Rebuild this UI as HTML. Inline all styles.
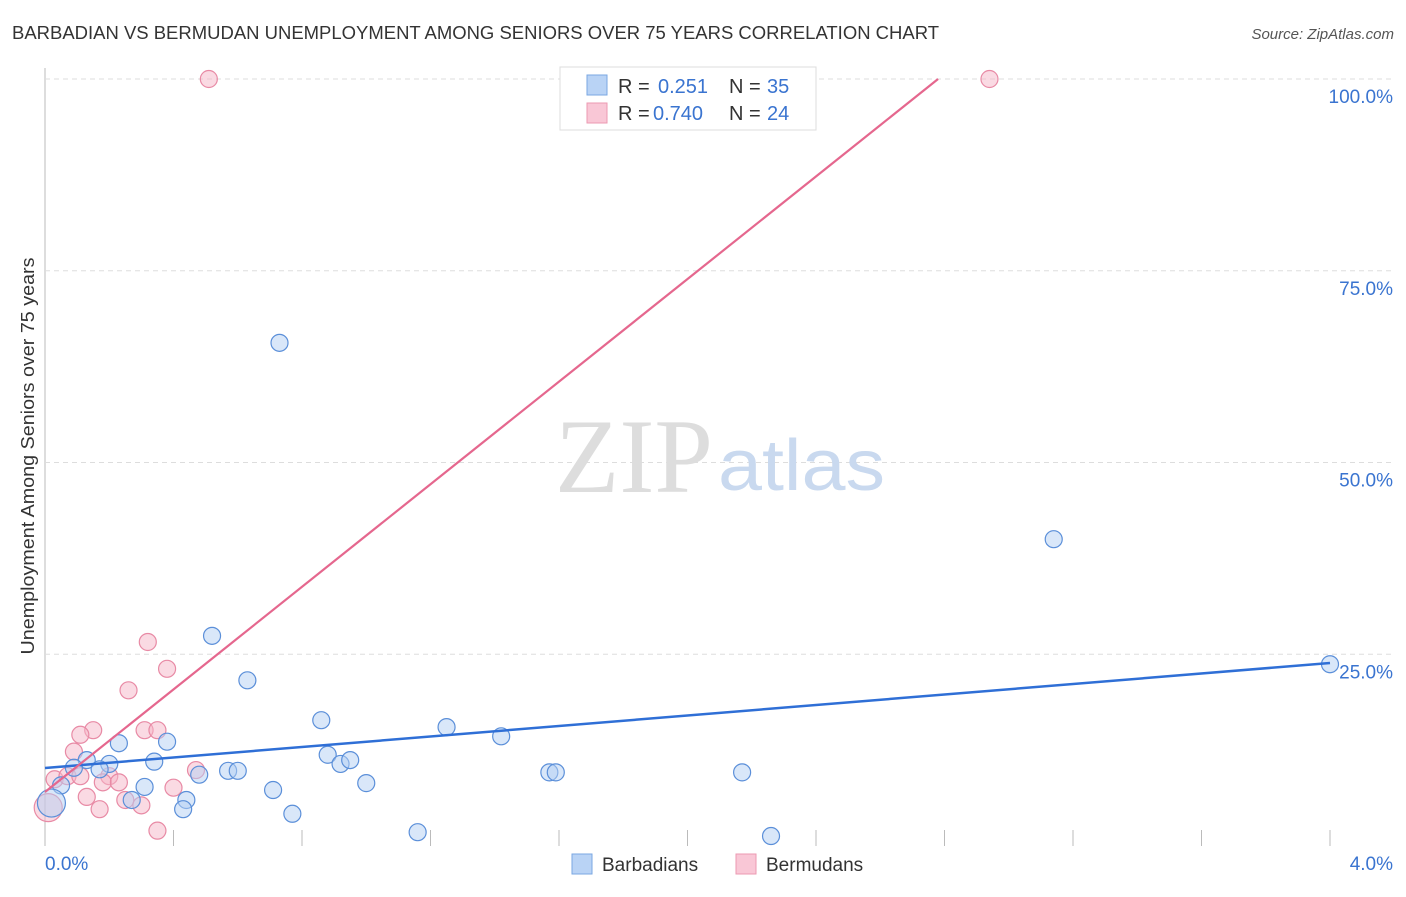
<!DOCTYPE html>
<html><head><meta charset="utf-8"><style>
body{margin:0;background:#fff;font-family:"Liberation Sans",sans-serif;}
</style></head><body>
<svg id="chart" width="1406" height="892" xmlns="http://www.w3.org/2000/svg" font-family="Liberation Sans, sans-serif">
<text x="12" y="39" font-size="18" fill="#333" textLength="927" lengthAdjust="spacingAndGlyphs">BARBADIAN VS BERMUDAN UNEMPLOYMENT AMONG SENIORS OVER 75 YEARS CORRELATION CHART</text>
<text x="1394" y="39" font-size="15" fill="#555" font-style="italic" text-anchor="end">Source: ZipAtlas.com</text>
<text x="34" y="456" font-size="18" fill="#333" text-anchor="middle" textLength="397" lengthAdjust="spacingAndGlyphs" transform="rotate(-90 34 456)">Unemployment Among Seniors over 75 years</text>
<g id="grid"></g>
<text x="713" y="492" font-size="106" fill="#ddd" font-family="Liberation Serif, serif" text-anchor="end" textLength="158" lengthAdjust="spacingAndGlyphs">ZIP</text>
<text x="718" y="490" font-size="72" fill="#c9d9ef" textLength="167" lengthAdjust="spacingAndGlyphs">atlas</text>
<g id="marks"></g>
<g>
<rect x="560" y="67" width="256" height="63" fill="#fff" stroke="#ddd"/>
<rect x="587" y="75" width="20" height="20" fill="#b9d3f5" stroke="#7aa7e2"/>
<rect x="587" y="103" width="20" height="20" fill="#f9c7d6" stroke="#ec9ab2"/>
<text x="618" y="93" font-size="20" fill="#333">R = </text><text x="658" y="93" font-size="20" fill="#3a74d0">0.251</text>
<text x="729" y="93" font-size="20" fill="#333">N = </text><text x="767" y="93" font-size="20" fill="#3a74d0">35</text>
<text x="618" y="120" font-size="20" fill="#333">R = </text><text x="653" y="120" font-size="20" fill="#3a74d0">0.740</text>
<text x="729" y="120" font-size="20" fill="#333">N = </text><text x="767" y="120" font-size="20" fill="#3a74d0">24</text>
</g>
<g>
<rect x="572" y="854" width="20" height="20" fill="#b9d3f5" stroke="#7aa7e2"/>
<text x="602" y="871" font-size="19" fill="#333">Barbadians</text>
<rect x="736" y="854" width="20" height="20" fill="#f9c7d6" stroke="#ec9ab2"/>
<text x="766" y="871" font-size="19" fill="#333">Bermudans</text>
</g>
</svg>
<script>
const blueX=[0.73,0.52,0.63,0.86,1.25,1.42,3.14,4.0,0.23,0.38,0.34,0.20,0.13,0.09,0.17,0.05,0.02,0.31,0.27,0.44,0.43,0.48,0.57,0.60,0.71,0.77,0.88,0.92,0.95,1.00,1.16,1.57,1.59,2.17,2.26];
const blueY=[65.6,27.4,21.6,16.4,15.5,14.3,40.0,23.7,13.4,13.6,11.0,10.7,11.2,10.2,10.0,7.9,5.6,7.7,6.0,6.0,4.8,9.3,9.8,9.8,7.3,4.2,11.9,10.7,11.2,8.2,1.8,9.6,9.6,9.6,1.3];
const pinkX=[0.51,2.94,0.32,0.38,0.26,0.15,0.11,0.09,0.31,0.35,0.03,0.07,0.20,0.18,0.23,0.47,0.40,0.13,0.25,0.30,0.17,0.35,0.01,0.11];
const pinkY=[100,100,26.6,23.1,20.3,15.1,14.5,12.3,15.1,15.1,8.7,9.1,9.1,8.3,8.3,9.9,7.6,6.4,6.0,5.3,4.8,2.0,5.0,9.1];
const blueTrend=[10.17,23.86];
const pinkTrend=[7.04,100];const pinkTrendX=[0,2.78];
const xTicks=["0.0%","4.0%"];
const yTicks=[25,50,75,100];
const ns="http://www.w3.org/2000/svg";
const sx=v=>45+v/4*1285, sy=v=>846-v/100*767;
function mk(tag,a,p){const e=document.createElementNS(ns,tag);for(const k in a)e.setAttribute(k,a[k]);p.appendChild(e);return e;}
const g=document.getElementById('grid'),m=document.getElementById('marks');
let ax=mk('line',{x1:45,y1:68,x2:45,y2:846,stroke:'#bbb'},g);


for(let i=0;i<=10;i++){const t=mk('line',{x1:sx(i*0.4),y1:i==0?806:830,x2:sx(i*0.4),y2:846,stroke:'#bbb'},g);

}
yTicks.forEach(v=>{const l=mk('line',{x1:45,y1:sy(v),x2:1394,y2:sy(v),stroke:'#ddd','stroke-dasharray':'5,4'},g);


const t=mk('text',{x:1393,y:sy(v)+24,'font-size':19,fill:'#3a74d0','text-anchor':'end'},g);t.textContent=v.toFixed(1)+'%';

});
xTicks.forEach((s,i)=>{const t=mk('text',{x:i?1393:45,y:870,'font-size':19,fill:'#3a74d0','text-anchor':i?'end':'start'},g);t.textContent=s;

});
function pts(X,Y,fill,stroke,name){X.forEach((x,i)=>{const big=(x<0.03&&Y[i]<6);const c=mk('circle',{cx:sx(x),cy:sy(Y[i]),r:big?14:8.5,fill:fill,'fill-opacity':0.5,stroke:stroke,'stroke-width':1.2},m);

});}
pts(pinkX,pinkY,'#f6b6c8','#e88aa5','bermudan-point');
pts(blueX,blueY,'#b3cff3','#5b8fd9','barbadian-point');
let bl=mk('line',{x1:sx(0),y1:sy(blueTrend[0]),x2:sx(4),y2:sy(blueTrend[1]),stroke:'#2f6fd6','stroke-width':2.5},m);


let pl=mk('line',{x1:sx(pinkTrendX[0]),y1:sy(pinkTrend[0]),x2:sx(pinkTrendX[1]),y2:sy(pinkTrend[1]),stroke:'#e5678e','stroke-width':2.2},m);


</script>
</body></html>
